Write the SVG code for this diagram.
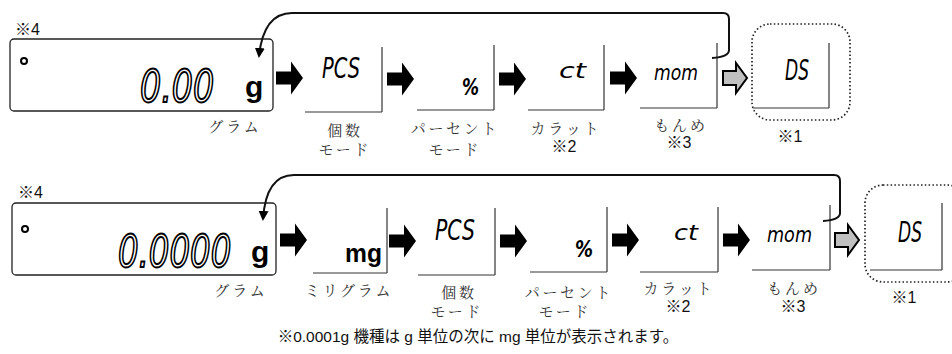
<svg xmlns="http://www.w3.org/2000/svg" xmlns:xlink="http://www.w3.org/1999/xlink" width="952" height="354" viewBox="0 0 952 354">
<style>
.lcd{fill:#fff;stroke:#222;stroke-width:1.3}
.ring{fill:none;stroke:#000;stroke-width:2}
.big{font-family:"DejaVu Sans Condensed","DejaVu Sans",sans-serif;font-style:italic;font-size:36px;fill:#fff;stroke:#000;stroke-width:1.5}
.seg{font-family:"DejaVu Sans Condensed","DejaVu Sans",sans-serif;font-style:italic;fill:#000}
.unit{font-family:"Liberation Sans",Arial,sans-serif;font-weight:bold;fill:#000}
.edge{fill:none;stroke:#333;stroke-width:1.2}
.edgeb{fill:none;stroke:#777;stroke-width:1.6}
.dot{fill:none;stroke:#222;stroke-width:1.7;stroke-dasharray:1.5 2.3}
.jp{font-family:"Noto Serif CJK JP","Noto Sans CJK JP",serif;font-size:15px;fill:#333;letter-spacing:2.8px;text-anchor:middle}
.note{font-family:"Liberation Sans","Noto Sans CJK JP",sans-serif;font-size:16px;fill:#111}
.mid{text-anchor:middle}
.ret{fill:none;stroke:#111;stroke-width:2}
.blk{fill:#000}
.gry{fill:#c0c0c0;stroke:#000;stroke-width:2;stroke-linejoin:miter}
</style>
<defs>
<path id="ar" d="M0,-6.5 H15 V-16.5 L27,0 L15,16.5 V6.5 H0 Z"/>
<path id="ag" d="M1,-7 H14 V-15 L25,0 L14,15 V7 H1 Z"/>
<marker id="hd" viewBox="0 0 10 10" refX="8" refY="5" markerWidth="10" markerHeight="11" markerUnits="userSpaceOnUse" orient="auto">
<path d="M0,0 L10,5 L0,10 Z" fill="#000"/>
</marker>
</defs>

<!-- ===== Row 1 ===== -->
<g id="r1-gram">
<text class="note" x="15" y="35">※4</text>
<rect class="lcd" x="10" y="39" width="263" height="72" rx="4"/>
<circle class="ring" cx="24" cy="61" r="3"/>
<text class="big" transform="translate(140,102) scale(1.03,1.22)" x="0" y="0">0.00</text>
<text class="unit" x="245" y="97" font-size="30">g</text>
<text class="jp" x="235" y="132">グラム</text>
</g>
<g id="r1-pcs">
<path class="edgeb" d="M305,112 H382"/>
<path class="edge" d="M382,112 V47"/>
<text class="seg" x="322" y="78" font-size="29" textLength="38" lengthAdjust="spacingAndGlyphs">PCS</text>
<text class="jp" x="345" y="136">個数</text>
<text class="jp" x="345" y="155">モード</text>
</g>
<g id="r1-pct">
<path class="edgeb" d="M417,110 H494"/>
<path class="edge" d="M494,110 V45"/>
<text class="seg" x="462" y="95" font-size="23" font-weight="bold" textLength="17" lengthAdjust="spacingAndGlyphs">%</text>
<text class="jp" x="455" y="134">パーセント</text>
<text class="jp" x="455" y="155">モード</text>
</g>
<g id="r1-ct">
<path class="edgeb" d="M528,110 H604"/>
<path class="edge" d="M604,110 V45"/>
<text class="seg" x="559" y="78" font-size="21" textLength="27" lengthAdjust="spacingAndGlyphs">ct</text>
<text class="jp" x="566" y="134">カラット</text>
<text class="note mid" x="564" y="152">※2</text>
</g>
<g id="r1-mom">
<path class="edgeb" d="M640,108 H717"/>
<path class="edge" d="M717,108 V43"/>
<text class="seg" x="654" y="80" font-size="22" textLength="44" lengthAdjust="spacingAndGlyphs">mom</text>
<text class="jp" x="681" y="131">もんめ</text>
<text class="note mid" x="679" y="148">※3</text>
</g>
<g id="r1-ds">
<rect class="dot" x="752" y="24" width="98" height="96" rx="18"/>
<path class="edgeb" d="M753,108 H829"/>
<path class="edge" d="M829,108 V43"/>
<text class="seg" x="785" y="80" font-size="29" textLength="24" lengthAdjust="spacingAndGlyphs">DS</text>
<text class="note mid" x="790" y="142">※1</text>
</g>

<!-- ===== Row 2 ===== -->
<g id="r2-gram">
<text class="note" x="18" y="198">※4</text>
<rect class="lcd" x="12" y="203" width="264" height="72" rx="4"/>
<circle class="ring" cx="25" cy="229" r="3"/>
<text class="big" transform="translate(118,267) scale(1,1.22)" x="0" y="0">0.0000</text>
<text class="unit" x="251" y="262" font-size="30">g</text>
<text class="jp" x="241" y="296">グラム</text>
</g>
<g id="r2-mg">
<path class="edgeb" d="M313,273 H387"/>
<path class="edge" d="M387,273 V208"/>
<text class="unit" x="345" y="262" font-size="26" textLength="37" lengthAdjust="spacingAndGlyphs">mg</text>
<text class="jp" x="349" y="296">ミリグラム</text>
</g>
<g id="r2-pcs">
<path class="edgeb" d="M418,275 H495"/>
<path class="edge" d="M495,275 V208"/>
<text class="seg" x="435" y="240" font-size="28" textLength="40" lengthAdjust="spacingAndGlyphs">PCS</text>
<text class="jp" x="459" y="298">個数</text>
<text class="jp" x="457" y="317">モード</text>
</g>
<g id="r2-pct">
<path class="edgeb" d="M530,272 H607"/>
<path class="edge" d="M607,272 V207"/>
<text class="seg" x="575" y="257" font-size="23" font-weight="bold" textLength="18" lengthAdjust="spacingAndGlyphs">%</text>
<text class="jp" x="569" y="298">パーセント</text>
<text class="jp" x="565" y="317">モード</text>
</g>
<g id="r2-ct">
<path class="edgeb" d="M640,272 H718"/>
<path class="edge" d="M718,272 V207"/>
<text class="seg" x="674" y="240" font-size="21" textLength="24" lengthAdjust="spacingAndGlyphs">ct</text>
<text class="jp" x="679" y="294">カラット</text>
<text class="note mid" x="678" y="312">※2</text>
</g>
<g id="r2-mom">
<path class="edgeb" d="M752,270 H830"/>
<path class="edge" d="M830,270 V205"/>
<text class="seg" x="767" y="242" font-size="22" textLength="45" lengthAdjust="spacingAndGlyphs">mom</text>
<text class="jp" x="794" y="294">もんめ</text>
<text class="note mid" x="793" y="312">※3</text>
</g>
<g id="r2-ds">
<rect class="dot" x="865" y="185" width="100" height="97" rx="18"/>
<path class="edgeb" d="M870,270 H942"/>
<path class="edge" d="M942,270 V203"/>
<text class="seg" x="898" y="242" font-size="29" textLength="24" lengthAdjust="spacingAndGlyphs">DS</text>
<text class="note mid" x="904" y="303">※1</text>
</g>

<!-- ===== Connectors ===== -->
<g id="connectors">
<path class="ret" d="M712,58 Q729,57 729,50 L729,19 Q729,13 723,13 L292,13 C272,13 262,28 259,56" marker-end="url(#hd)"/>
<use href="#ar" class="blk" x="276" y="78"/>
<use href="#ar" class="blk" x="387" y="79"/>
<use href="#ar" class="blk" x="499" y="79"/>
<use href="#ar" class="blk" x="610" y="78"/>
<use href="#ag" class="gry" x="722" y="78"/>

<path class="ret" d="M823,221 Q840,220 840,213 L840,181 Q840,175 834,175 L294,175 C275,175 265,190 263,219" marker-end="url(#hd)"/>
<use href="#ar" class="blk" x="280" y="240"/>
<use href="#ar" class="blk" x="389" y="241"/>
<use href="#ar" class="blk" x="500" y="241"/>
<use href="#ar" class="blk" x="612" y="240"/>
<use href="#ar" class="blk" x="723" y="240"/>
<use href="#ag" class="gry" x="834" y="240"/>
</g>

<text class="note mid" x="478" y="342" style="font-size:15.5px">※0.0001g 機種は g 単位の次に mg 単位が表示されます。</text>
</svg>
